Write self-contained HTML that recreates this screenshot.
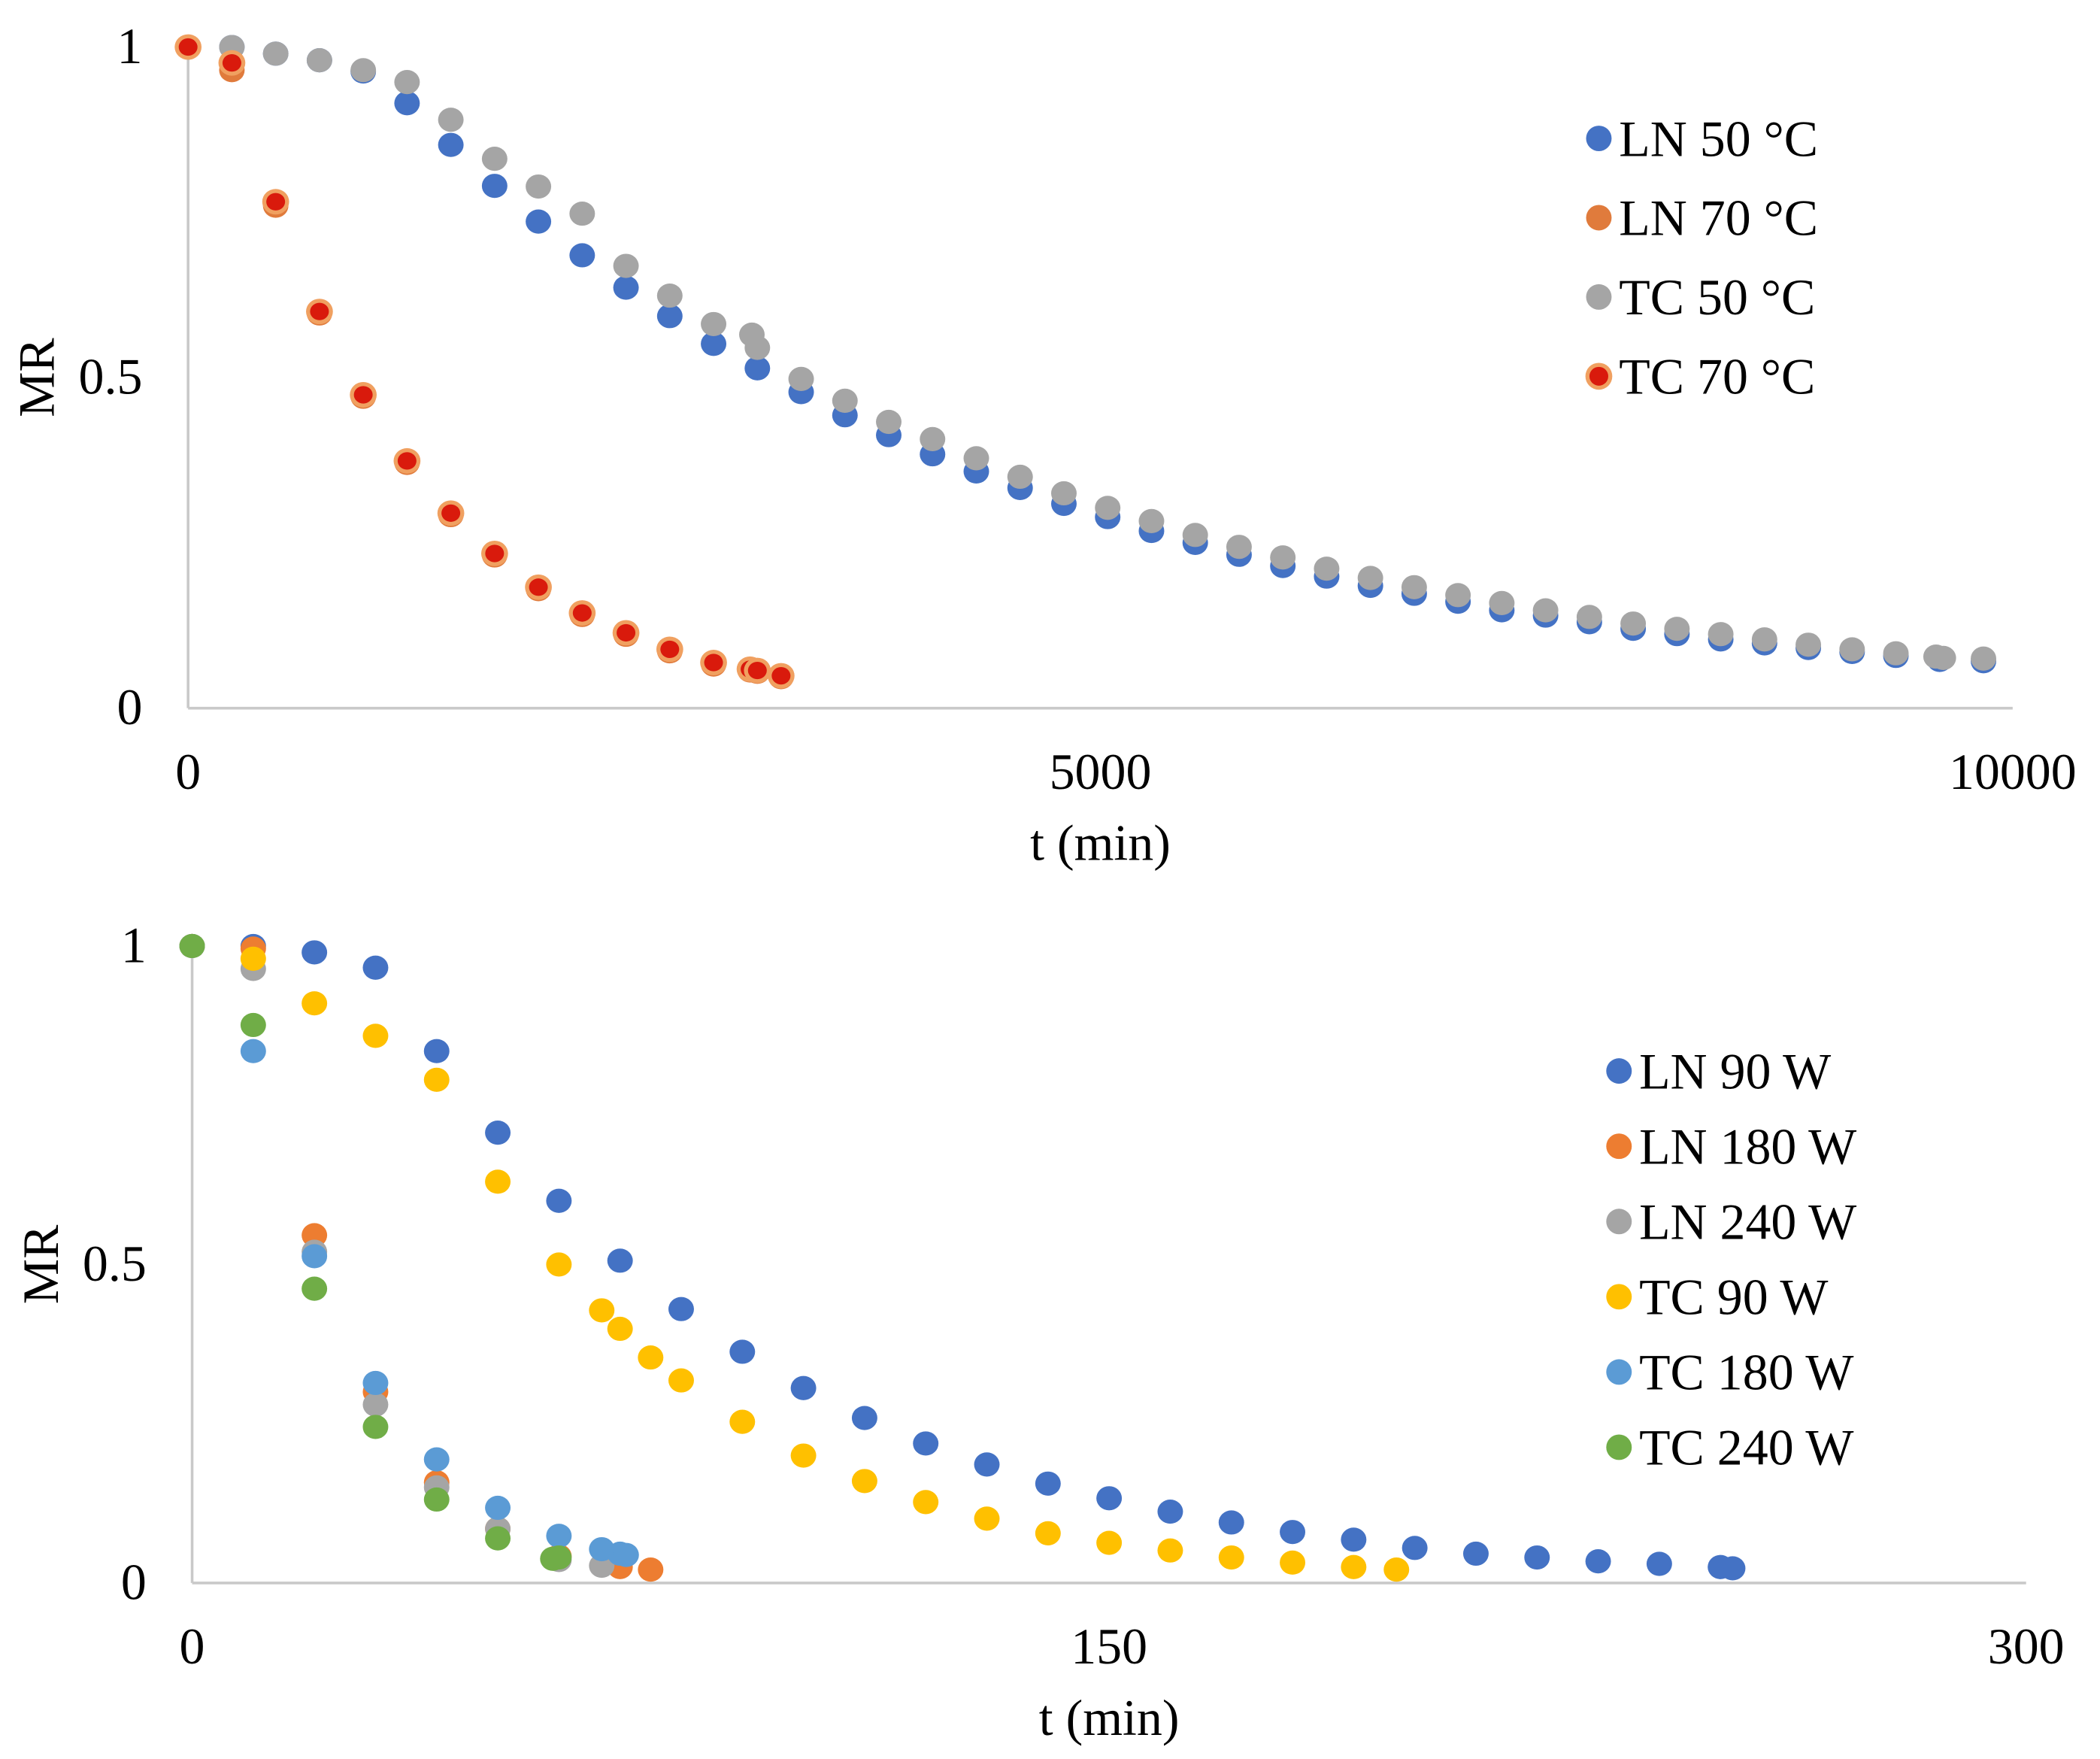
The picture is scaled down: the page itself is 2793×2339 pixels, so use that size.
<!DOCTYPE html>
<html><head><meta charset="utf-8"><style>
html,body{margin:0;padding:0;background:#fff;}
svg{display:block;}
text{font-family:"Liberation Serif",serif;fill:#000;}
</style></head><body>
<svg id="c" width="2793" height="2339" viewBox="0 0 1563 1309" preserveAspectRatio="none" xmlns="http://www.w3.org/2000/svg"></svg>
<script>
// ---- Top chart data (t in min, MR) ----
const topXTicks = [0, 5000, 10000];
const topYTicks = [0, 0.5, 1];
const ln50T = [0,240,480,720,960,1200,1440,1680,1920,2160,2400,2640,2880,3120,3360,3600,3840,4080,4320,4560,4800,5040,5280,5520,5760,6000,6240,6480,6720,6960,7200,7440,7680,7920,8160,8400,8640,8880,9120,9360,9600,9840];
const ln50MR = [1,1,0.99,0.98,0.963,0.915,0.852,0.79,0.736,0.685,0.636,0.593,0.551,0.514,0.478,0.443,0.413,0.384,0.358,0.333,0.309,0.289,0.268,0.25,0.232,0.215,0.199,0.185,0.173,0.161,0.148,0.14,0.13,0.12,0.112,0.104,0.098,0.091,0.085,0.079,0.073,0.071];
const tc50T = [0,240,480,720,960,1200,1440,1680,1920,2160,2400,2640,2880,3090,3120,3360,3600,3840,4080,4320,4560,4800,5040,5280,5520,5760,6000,6240,6480,6720,6960,7200,7440,7680,7920,8160,8400,8640,8880,9120,9360,9580,9620,9840];
const tc50MR = [1,1,0.99,0.98,0.965,0.947,0.89,0.831,0.789,0.748,0.669,0.624,0.581,0.565,0.545,0.498,0.465,0.433,0.407,0.378,0.35,0.325,0.303,0.283,0.262,0.244,0.228,0.211,0.197,0.183,0.171,0.159,0.148,0.138,0.128,0.12,0.112,0.104,0.096,0.089,0.083,0.078,0.076,0.075];
const ln70T = [0,240,480,720,960,1200,1440,1680,1920,2160,2400,2640,2880,3080,3120,3250];
const ln70MR = [1,0.965,0.76,0.597,0.471,0.371,0.292,0.231,0.18,0.141,0.111,0.086,0.066,0.057,0.055,0.047];
const tc70T = [0,240,480,720,960,1200,1440,1680,1920,2160,2400,2640,2880,3080,3120,3250];
const tc70MR = [1,0.976,0.766,0.6,0.474,0.374,0.295,0.234,0.183,0.144,0.114,0.089,0.069,0.059,0.057,0.049];
// ---- Bottom chart data ----
const botXTicks = [0, 150, 300];
const botYTicks = [0, 0.5, 1];
const ln90T = [0,10,20,30,40,50,60,70,80,90,100,110,120,130,140,150,160,170,180,190,200,210,220,230,240,250,252];
const ln90MR = [1,1,0.99,0.966,0.835,0.707,0.6,0.506,0.43,0.363,0.306,0.259,0.219,0.186,0.156,0.133,0.112,0.095,0.08,0.068,0.055,0.046,0.04,0.034,0.03,0.025,0.023];
const ln180T = [0,10,20,30,40,50,60,70,75];
const ln180MR = [1,0.996,0.546,0.3,0.158,0.085,0.042,0.025,0.021];
const ln240T = [0,10,20,30,40,50,60,67];
const ln240MR = [1,0.964,0.52,0.28,0.15,0.085,0.036,0.027];
const tc90T = [0,10,20,30,40,50,60,67,70,75,80,90,100,110,120,130,140,150,160,170,180,190,197];
const tc90MR = [1,0.98,0.91,0.859,0.79,0.63,0.5,0.428,0.399,0.354,0.318,0.253,0.2,0.16,0.127,0.101,0.078,0.063,0.051,0.04,0.032,0.025,0.021];
const tc180T = [0,10,20,30,40,50,60,67,70,71];
const tc180MR = [1,0.835,0.513,0.314,0.194,0.118,0.074,0.053,0.046,0.044];
const tc240T = [0,10,20,30,40,50,59,60];
const tc240MR = [1,0.876,0.462,0.245,0.131,0.07,0.038,0.04];

const NS = "http://www.w3.org/2000/svg";
const svg = document.getElementById('c');
function el(tag, attrs, parent){ const e=document.createElementNS(NS,tag); for(const k in attrs) e.setAttribute(k,attrs[k]); (parent||svg).appendChild(e); return e; }

function chart(cfg){
  const g = el('g',{});
  
  
  const sx = v => cfg.x0 + (v - cfg.xmin)/(cfg.xmax - cfg.xmin)*(cfg.x1 - cfg.x0);
  const sy = v => cfg.y0 - v*(cfg.y0 - cfg.y1);
  const ax = el('line',{x1:cfg.x0,y1:cfg.y0,x2:cfg.x1,y2:cfg.y0,stroke:'#c9c9c9','stroke-width':2},g);
  
  
  const ay = el('line',{x1:cfg.x0,y1:cfg.y0,x2:cfg.x0,y2:cfg.y1,stroke:'#c9c9c9','stroke-width':2},g);
  
  
  cfg.xt.forEach(v=>{
    const t = el('text',{x:sx(v),y:cfg.y0+60,'text-anchor':'middle','font-size':38},g);
    t.textContent = v;
    
    
  });
  cfg.yt.forEach(v=>{
    const t = el('text',{x:cfg.x0-34,y:sy(v)+12,'text-anchor':'end','font-size':38},g);
    t.textContent = v;
    
    
  });
  const xtl = el('text',{x:(cfg.x0+cfg.x1)/2,y:cfg.y0+113,'text-anchor':'middle','font-size':38},g);
  xtl.textContent = 't (min)';
  
  
  const ym = (cfg.y0+cfg.y1)/2;
  const ytl = el('text',{x:0,y:0,'text-anchor':'middle','font-size':38,transform:`translate(${cfg.x0-100},${ym}) rotate(-90)`},g);
  ytl.textContent = 'MR';
  
  
  cfg.series.forEach(s=>{
    const sg = el('g',{},g);
    
    
    s.t.forEach((tv,i)=>{
      const cx = sx(tv), cy = sy(s.v[i]);
      if(s.ring){ el('ellipse',{cx:cx,cy:cy,rx:10,ry:9.5,fill:s.ring},sg); }
      const p = el('ellipse',{cx:cx,cy:cy,rx:s.ring?7:9.5,ry:s.ring?6.5:9,fill:s.c},sg);
      
      
    });
  });
  cfg.series.forEach((s,i)=>{
    const lg = el('g',{},g);
    
    
    const ly = cfg.ly + i*cfg.lstep;
    if(s.ring) el('ellipse',{cx:cfg.lx,cy:ly,rx:10,ry:10,fill:s.ring},lg);
    el('ellipse',{cx:cfg.lx,cy:ly,rx:s.ring?7:9.5,ry:s.ring?7:9.5,fill:s.c},lg);
    const t = el('text',{x:cfg.lx+15,y:ly+13,'font-size':38},lg);
    t.textContent = s.label;
  });
}

chart({name:'top-chart-temperature',x0:140,x1:1498,y0:527,y1:35,xmin:0,xmax:10000,xt:topXTicks,yt:topYTicks,lx:1190,ly:103,lstep:59,
  series:[
    {key:'ln-50c',label:'LN 50 °C',t:ln50T,v:ln50MR,c:'#4472C4'},
    {key:'ln-70c',label:'LN 70 °C',t:ln70T,v:ln70MR,c:'#E07B3C'},
    {key:'tc-50c',label:'TC 50 °C',t:tc50T,v:tc50MR,c:'#A5A5A5'},
    {key:'tc-70c',label:'TC 70 °C',t:tc70T,v:tc70MR,c:'#D91A0C',ring:'#F0A060'}
  ]});
chart({name:'bottom-chart-microwave',x0:143,x1:1508,y0:1178,y1:704,xmin:0,xmax:300,xt:botXTicks,yt:botYTicks,lx:1205,ly:797,lstep:56,
  series:[
    {key:'ln-90w',label:'LN 90 W',t:ln90T,v:ln90MR,c:'#4472C4'},
    {key:'ln-180w',label:'LN 180 W',t:ln180T,v:ln180MR,c:'#ED7D31'},
    {key:'ln-240w',label:'LN 240 W',t:ln240T,v:ln240MR,c:'#A5A5A5'},
    {key:'tc-90w',label:'TC 90 W',t:tc90T,v:tc90MR,c:'#FFC000'},
    {key:'tc-180w',label:'TC 180 W',t:tc180T,v:tc180MR,c:'#5B9BD5'},
    {key:'tc-240w',label:'TC 240 W',t:tc240T,v:tc240MR,c:'#70AD47'}
  ]});
</script>
</body></html>
